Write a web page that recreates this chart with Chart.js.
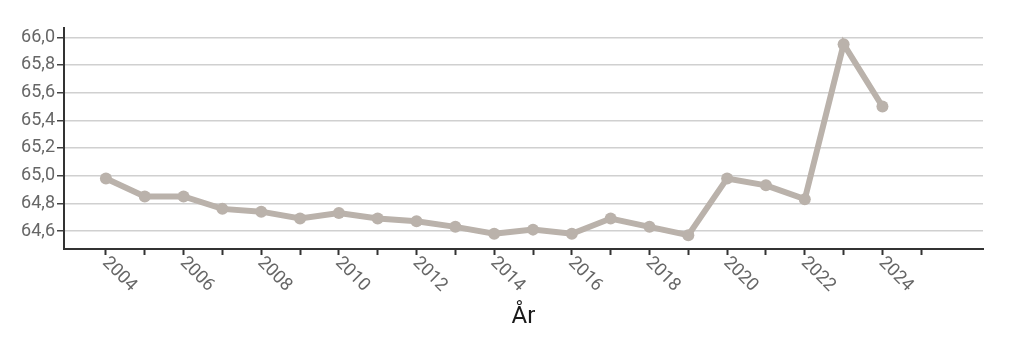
<!DOCTYPE html>
<html>
<head>
<meta charset="utf-8">
<script src="https://cdn.jsdelivr.net/npm/chart.js@4"></script>
<style>
  html, body { margin: 0; padding: 0; background: #ffffff; }
  #wrap { width: 1024px; height: 341px; position: relative; }
</style>
</head>
<body>
<div id="wrap"><canvas id="c"></canvas></div>
<script>
const years = [2004, 2005, 2006, 2007, 2008, 2009, 2010, 2011, 2012, 2013, 2014, 2015, 2016, 2017, 2018, 2019, 2020, 2021, 2022, 2023, 2024];
const values = [64.98, 64.85, 64.85, 64.76, 64.74, 64.69, 64.73, 64.69, 64.67, 64.63, 64.58, 64.61, 64.58, 64.69, 64.63, 64.57, 64.98, 64.93, 64.83, 65.95, 65.50];
const yTickValues = [64.6, 64.8, 65.0, 65.2, 65.4, 65.6, 65.8, 66.0];
const xTickYears = [2004, 2005, 2006, 2007, 2008, 2009, 2010, 2011, 2012, 2013, 2014, 2015, 2016, 2017, 2018, 2019, 2020, 2021, 2022, 2023, 2024, 2025];
const xLabelYears = [2004, 2006, 2008, 2010, 2012, 2014, 2016, 2018, 2020, 2022, 2024];
const axisTitle = 'År';

const FONT = 'Roboto, "Liberation Sans", sans-serif';
const TICK_COLOR = '#666666';
const LINE_COLOR = '#bab2ab';

const rotatedXLabels = {
  id: 'rotatedXLabels',
  afterDraw(chart) {
    const sx = chart.scales.x;
    const ctx = chart.ctx;
    ctx.save();
    ctx.font = '18px ' + FONT;
    ctx.fillStyle = TICK_COLOR;
    ctx.textAlign = 'left';
    ctx.textBaseline = 'middle';
    xLabelYears.forEach(yr => {
      const px = sx.getPixelForValue(yr);
      ctx.save();
      ctx.translate(px - 1, sx.top + 11);
      ctx.rotate(Math.PI / 4);
      ctx.fillText(String(yr), 0, 0);
      ctx.restore();
    });
    ctx.restore();
  }
};

new Chart(document.getElementById('c'), {
  type: 'line',
  data: {
    datasets: [{
      data: years.map((y, i) => ({ x: y, y: values[i] })),
      borderColor: LINE_COLOR,
      backgroundColor: LINE_COLOR,
      borderWidth: 6,
      pointRadius: 6,
      pointBorderWidth: 0,
      pointBackgroundColor: LINE_COLOR,
      tension: 0,
      fill: false
    }]
  },
  options: {
    responsive: true,
    maintainAspectRatio: false,
    animation: false,
    layout: { padding: { top: 28, right: 41, left: 0, bottom: 0 } },
    plugins: { legend: { display: false }, tooltip: { enabled: false } },
    scales: {
      x: {
        type: 'linear',
        min: 2002.92,
        max: 2026.59,
        afterBuildTicks: s => { s.ticks = xTickYears.map(v => ({ value: v })); },
        afterFit: s => { s.height = 92; },
        ticks: { display: false },
        grid: { display: true, drawOnChartArea: false, drawTicks: true, tickLength: 6, tickColor: '#333333', tickWidth: 2 },
        border: { display: true, color: '#333333', width: 2 },
        title: {
          display: true,
          text: axisTitle,
          color: '#1a1a1a',
          font: { family: FONT, size: 24 },
          padding: { top: 0, bottom: 10 }
        }
      },
      y: {
        type: 'linear',
        min: 64.47,
        max: 66.067,
        afterBuildTicks: s => { s.ticks = yTickValues.map(v => ({ value: v })); },
        afterFit: s => { s.width = 64; },
        ticks: {
          color: TICK_COLOR,
          font: { family: FONT, size: 18 },
          padding: 2,
          callback: v => Number(v).toFixed(1).replace('.', ',')
        },
        grid: { color: '#d0d0d0', lineWidth: 1.5, drawTicks: true, tickLength: 7, tickColor: '#444444', tickWidth: 1.5 },
        border: { display: true, color: '#333333', width: 2 }
      }
    }
  },
  plugins: [rotatedXLabels]
});
</script>
</body>
</html>
